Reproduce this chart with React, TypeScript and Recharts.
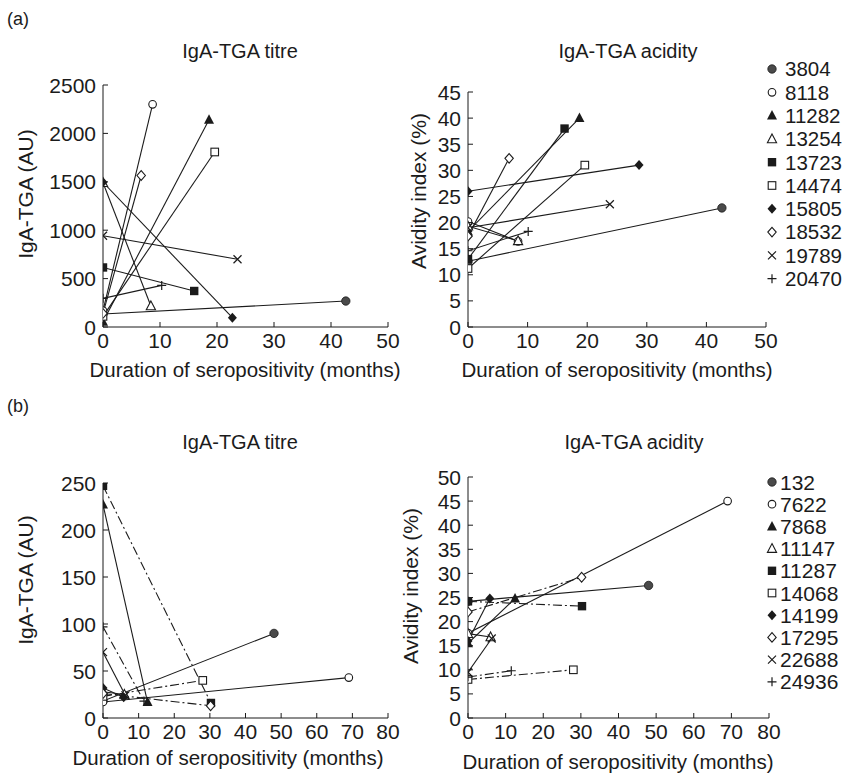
import React from 'react';
import { LineChart, Line, XAxis, YAxis, Legend } from 'recharts';

const FONT = '"Liberation Sans", Arial, Helvetica, sans-serif';
const INK = '#1b1b1b';

// (a) patients, months since seroconversion and the two measurements
const patientsA = ['3804', '8118', '11282', '13254', '13723', '14474', '15805', '18532', '19789', '20470'];
const titreMonthsA = [[0, 42.6], [0, 8.7], [0, 18.6], [0, 8.4], [0, 16], [0, 19.6], [0, 22.7], [0, 6.7], [0, 23.6], [0, 10.3]];
const titreA = [[134, 268], [169, 2300], [55, 2140], [1490, 217], [615, 372], [110, 1808], [1495, 96], [140, 1565], [943, 700], [296, 430]];
const avidityMonthsA = [[0, 42.6], [0, 8.4], [0, 18.7], [0, 8.4], [0, 16.2], [0, 19.6], [0, 28.7], [0, 6.9], [0, 23.8], [0, 10.1]];
const avidityA = [[12.6, 22.8], [20.2, 16.4], [18.3, 40], [19.3, 16.5], [13, 38], [11.2, 31], [26, 31], [17.4, 32.3], [19, 23.5], [14.6, 18.3]];

// (b)
const patientsB = ['132', '7622', '7868', '11147', '11287', '14068', '14199', '17295', '22688', '24936'];
const monthsB = [[0, 48], [0, 69], [0, 12.5], [0, 6], [0, 30.3], [0, 28], [0, 5.8], [0, 30.2], [0, 6.3], [0, 11.5]];
const titreB = [[18, 90], [17, 43], [227, 17], [28, 25], [247, 16], [23, 40], [32, 22], [26, 13], [70, 24], [97, 18]];
const avidityB = [[24.2, 27.5], [17.6, 45], [15.5, 24.8], [17.5, 16.8], [24.2, 23.2], [8, 10], [16, 24.8], [22, 29.2], [9.5, 16.5], [8.5, 9.8]];
const dashDotB = ['11287', '14068', '17295', '24936'];

const markers = ['filledCircle', 'openCircle', 'filledTriangle', 'openTriangle', 'filledSquare', 'openSquare', 'filledDiamond', 'openDiamond', 'cross', 'plus'];

const monthTicksA = [0, 10, 20, 30, 40, 50];
const monthTicksB = [0, 10, 20, 30, 40, 50, 60, 70, 80];
const titreTicksA = [0, 500, 1000, 1500, 2000, 2500];
const avidityTicksA = [0, 5, 10, 15, 20, 25, 30, 35, 40, 45];
const titreTicksB = [0, 50, 100, 150, 200, 250];
const avidityTicksB = [0, 5, 10, 15, 20, 25, 30, 35, 40, 45, 50];

function Marker({ kind, cx, cy }: { kind: string; cx: number; cy: number }) {
  if (cx == null || cy == null) return <g />;
  switch (kind) {
    case 'filledCircle':
      return <circle cx={cx} cy={cy} r={4.2} fill="#4a4a4a" stroke={INK} strokeWidth={0.8} />;
    case 'openCircle':
      return <circle cx={cx} cy={cy} r={3.8} fill="#fff" stroke={INK} strokeWidth={1.1} />;
    case 'filledTriangle':
      return <polygon points={`${cx},${cy - 5.5} ${cx + 5},${cy + 4} ${cx - 5},${cy + 4}`} fill={INK} />;
    case 'openTriangle':
      return <polygon points={`${cx},${cy - 5} ${cx + 4.6},${cy + 3.8} ${cx - 4.6},${cy + 3.8}`} fill="#fff" stroke={INK} strokeWidth={1.1} />;
    case 'filledSquare':
      return <rect x={cx - 4.2} y={cy - 4.2} width={8.4} height={8.4} fill={INK} />;
    case 'openSquare':
      return <rect x={cx - 3.8} y={cy - 3.8} width={7.6} height={7.6} fill="#fff" stroke={INK} strokeWidth={1.1} />;
    case 'filledDiamond':
      return <polygon points={`${cx},${cy - 5} ${cx + 4.5},${cy} ${cx},${cy + 5} ${cx - 4.5},${cy}`} fill={INK} />;
    case 'openDiamond':
      return <polygon points={`${cx},${cy - 4.8} ${cx + 4.2},${cy} ${cx},${cy + 4.8} ${cx - 4.2},${cy}`} fill="#fff" stroke={INK} strokeWidth={1.1} />;
    case 'cross':
      return <path d={`M${cx - 4},${cy - 4}L${cx + 4},${cy + 4}M${cx - 4},${cy + 4}L${cx + 4},${cy - 4}`} stroke={INK} strokeWidth={1.2} />;
    default:
      return <path d={`M${cx - 4.5},${cy}L${cx + 4.5},${cy}M${cx},${cy - 4.5}L${cx},${cy + 4.5}`} stroke={INK} strokeWidth={1.2} />;
  }
}

const XTick = ({ x, y, payload }: any) => (
  <g>
    <line x1={x} x2={x} y1={y} y2={y - 5} stroke={INK} />
    <text x={x} y={y + 21} textAnchor="middle" fontSize={21} fontFamily={FONT} fill={INK}>{payload.value}</text>
  </g>
);

const YTick = ({ x, y, payload }: any) => (
  <g>
    <line x1={x} x2={x + 5} y1={y} y2={y} stroke={INK} />
    <text x={x - 7} y={y} dy="0.36em" textAnchor="end" fontSize={21} fontFamily={FONT} fill={INK}>{payload.value}</text>
  </g>
);

type PanelProps = {
  left: number; top: number; width: number; height: number;
  margin: { top: number; right: number; bottom: number; left: number };
  yWidth: number;
  xDomain: [number, number]; xTicks: number[];
  yDomain: [number, number]; yTicks: number[];
  yTitle: string; yTitlePos: [number, number];
  xTitlePos: [number, number];
  patients: string[]; months: number[][]; values: number[][];
  dashed?: string[];
  // legend.top is the centre of the first row, relative to the chart
  legend?: { left: number; top: number; gap: number; textX: number; fontSize: number };
};

const LEGEND_PAD = 14;

function Panel(p: PanelProps) {
  return (
    <div style={{ position: 'absolute', left: p.left, top: p.top }}>
      <LineChart width={p.width} height={p.height} margin={p.margin}>
        <XAxis
          type="number"
          dataKey="month"
          domain={p.xDomain}
          ticks={p.xTicks}
          interval={0}
          allowDataOverflow
          height={50}
          axisLine={{ stroke: INK }}
          tickLine={false}
          tickSize={0}
          tickMargin={0}
          tick={<XTick />}
          label={{
            content: () => (
              <text x={p.xTitlePos[0]} y={p.xTitlePos[1]} textAnchor="middle" fontSize={20.5} fontFamily={FONT} fill={INK}>
                Duration of seropositivity (months)
              </text>
            ),
          }}
        />
        <YAxis
          type="number"
          dataKey="value"
          domain={p.yDomain}
          ticks={p.yTicks}
          interval={0}
          allowDataOverflow
          width={p.yWidth}
          axisLine={{ stroke: INK }}
          tickLine={false}
          tickSize={0}
          tickMargin={0}
          tick={<YTick />}
          label={{
            content: () => (
              <text
                x={p.yTitlePos[0]}
                y={p.yTitlePos[1]}
                transform={`rotate(-90 ${p.yTitlePos[0]} ${p.yTitlePos[1]})`}
                textAnchor="middle"
                dy="0.36em"
                fontSize={21}
                fontFamily={FONT}
                fill={INK}
              >
                {p.yTitle}
              </text>
            ),
          }}
        />
        {p.legend && (
          <Legend
            layout="vertical"
            align="center"
            verticalAlign="middle"
            wrapperStyle={{ left: p.legend.left, top: p.legend.top - LEGEND_PAD, width: 86 }}
            content={() => (
              <svg width={86} height={250} style={{ overflow: 'visible' }}>
                {p.patients.map((name, i) => (
                  <g key={name}>
                    <Marker kind={markers[i]} cx={6} cy={LEGEND_PAD + i * p.legend!.gap} />
                    <text x={p.legend!.textX} y={LEGEND_PAD + i * p.legend!.gap} dy="0.36em" fontSize={p.legend!.fontSize} fontFamily={FONT} fill={INK}>
                      {name}
                    </text>
                  </g>
                ))}
              </svg>
            )}
          />
        )}
        {p.patients.map((name, i) => (
          <Line
            key={name}
            name={name}
            data={p.months[i].map((m, j) => ({ month: m, value: p.values[i][j] }))}
            dataKey="value"
            stroke={INK}
            strokeWidth={1.1}
            strokeDasharray={p.dashed && p.dashed.includes(name) ? '9 3 2 3' : undefined}
            isAnimationActive={false}
            activeDot={false}
            dot={(d: any) => <Marker key={`${name}-${d.index}`} kind={markers[i]} cx={d.cx} cy={d.cy} />}
          />
        ))}
      </LineChart>
    </div>
  );
}

const textStyle: React.CSSProperties = { position: 'absolute', fontFamily: FONT, color: INK, whiteSpace: 'nowrap' };

export default function App() {
  return (
    <div style={{ position: 'absolute', left: 0, top: 0, width: 857, height: 776, background: '#fff', overflow: 'hidden' }}>
      <div style={{ ...textStyle, left: 7, top: 9, fontSize: 18 }}>(a)</div>
      <div style={{ ...textStyle, left: 7, top: 396, fontSize: 18 }}>(b)</div>
      <div style={{ ...textStyle, left: 240, top: 40, fontSize: 20, transform: 'translateX(-50%)' }}>IgA-TGA titre</div>
      <div style={{ ...textStyle, left: 628, top: 40, fontSize: 20, transform: 'translateX(-50%)' }}>IgA-TGA acidity</div>
      <div style={{ ...textStyle, left: 240, top: 431, fontSize: 20, transform: 'translateX(-50%)' }}>IgA-TGA titre</div>
      <div style={{ ...textStyle, left: 634, top: 431, fontSize: 20, transform: 'translateX(-50%)' }}>IgA-TGA acidity</div>

      <Panel
        left={0} top={40} width={400} height={350}
        margin={{ top: 45, right: 12, bottom: 13, left: 0 }}
        yWidth={103}
        xDomain={[0, 50]} xTicks={monthTicksA}
        yDomain={[0, 2500]} yTicks={titreTicksA}
        yTitle="IgA-TGA (AU)" yTitlePos={[25, 154]}
        xTitlePos={[245, 337]}
        patients={patientsA} months={titreMonthsA} values={titreA}
      />
      <Panel
        left={400} top={40} width={457} height={350}
        margin={{ top: 52, right: 91, bottom: 13, left: 0 }}
        yWidth={68}
        xDomain={[0, 50]} xTicks={monthTicksA}
        yDomain={[0, 45]} yTicks={avidityTicksA}
        yTitle="Avidity index (%)" yTitlePos={[18, 151]}
        xTitlePos={[217, 337]}
        patients={patientsA} months={avidityMonthsA} values={avidityA}
        legend={{ left: 366, top: 29, gap: 23.3, textX: 19, fontSize: 20.5 }}
      />
      <Panel
        left={0} top={420} width={400} height={356}
        margin={{ top: 63, right: 12, bottom: 8, left: 0 }}
        yWidth={103}
        xDomain={[0, 80]} xTicks={monthTicksB}
        yDomain={[0, 250]} yTicks={titreTicksB}
        yTitle="IgA-TGA (AU)" yTitlePos={[25, 160]}
        xTitlePos={[228, 345]}
        patients={patientsB} months={monthsB} values={titreB}
        dashed={dashDotB}
      />
      <Panel
        left={400} top={420} width={457} height={356}
        margin={{ top: 57, right: 88, bottom: 8, left: 0 }}
        yWidth={68}
        xDomain={[0, 80]} xTicks={monthTicksB}
        yDomain={[0, 50]} yTicks={avidityTicksB}
        yTitle="Avidity index (%)" yTitlePos={[10, 166]}
        xTitlePos={[218, 349]}
        patients={patientsB} months={monthsB} values={avidityB}
        dashed={dashDotB}
        legend={{ left: 365.5, top: 61.7, gap: 22.2, textX: 14, fontSize: 21 }}
      />
    </div>
  );
}
